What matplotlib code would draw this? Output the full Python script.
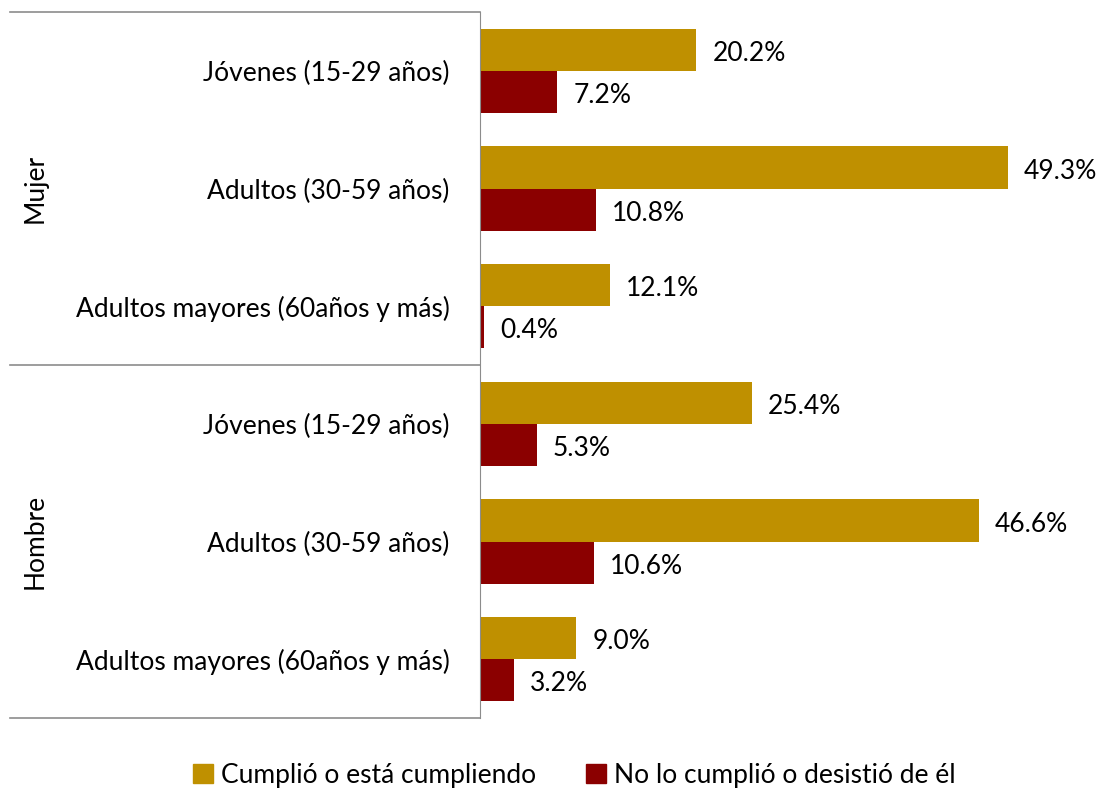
import matplotlib
matplotlib.use("Agg")
import numpy as np
import matplotlib.pyplot as plt
from matplotlib.patches import Patch
import matplotlib.transforms as mtransforms

categories = ["Jóvenes (15-29 años)", "Adultos (30-59 años)", "Adultos mayores (60años y más)",
              "Jóvenes (15-29 años)", "Adultos (30-59 años)", "Adultos mayores (60años y más)"]
groups = ["Mujer", "Hombre"]
cumplio = [20.2, 49.3, 12.1, 25.4, 46.6, 9.0]
no_cumplio = [7.2, 10.8, 0.4, 5.3, 10.6, 3.2]
series_names = ["Cumplió o está cumpliendo", "No lo cumplió o desistió de él"]

gold = "#BF9000"
red = "#8B0000"
line_col = "#8C8C8C"

plt.rcParams['font.family'] = ['Lato', 'DejaVu Sans']

fig = plt.figure(figsize=(11.03, 7.89), dpi=100)
ax = fig.add_axes([480 / 1103, 1 - 718 / 789, 620 / 1103, 706 / 789])

y = np.arange(len(categories))
h = 0.357
ax.barh(y - h / 2, cumplio, height=h, color=gold)
ax.barh(y + h / 2, no_cumplio, height=h, color=red)

for yi, v in zip(y - h / 2, cumplio):
    ax.text(v + 1.5, yi + 0.03, f"{v:.1f}%", va="center", ha="left", fontsize=19)
for yi, v in zip(y + h / 2, no_cumplio):
    ax.text(v + 1.5, yi + 0.03, f"{v:.1f}%", va="center", ha="left", fontsize=19)

ax.set_ylim(len(categories) - 0.5, -0.5)
ax.set_xlim(0, 57.9)
ax.set_yticks(y)
ax.set_yticklabels(categories, fontsize=19)
ax.tick_params(axis="y", length=0, pad=22)
ax.set_xticks([])
for s in ["top", "right", "bottom"]:
    ax.spines[s].set_visible(False)
ax.spines["left"].set_color(line_col)
ax.set_facecolor("none")

# group panel lines on the left
trans = mtransforms.blended_transform_factory(ax.transAxes, ax.transAxes)
x0 = (10 - 480) / 620
for yy in [1.0, 0.5, 0.0]:
    ax.plot([x0, 0], [yy, yy], color=line_col, lw=1.2, transform=trans, clip_on=False)

for g, yy in zip(groups, [0.75, 0.25]):
    ax.text((35 - 480) / 620, yy, g, rotation=90, va="center", ha="center",
            fontsize=19, transform=ax.transAxes)

handles = [Patch(color=gold), Patch(color=red)]
fig.legend(handles, series_names, loc="center", bbox_to_anchor=(574 / 1103, 14 / 789),
           ncol=2, frameon=False, handlelength=0.75, handleheight=0.75,
           handletextpad=0.3, columnspacing=1.9,
           prop={'family': ['Lato', 'DejaVu Sans'], 'size': 19})

fig.savefig("out.png", dpi=100)
